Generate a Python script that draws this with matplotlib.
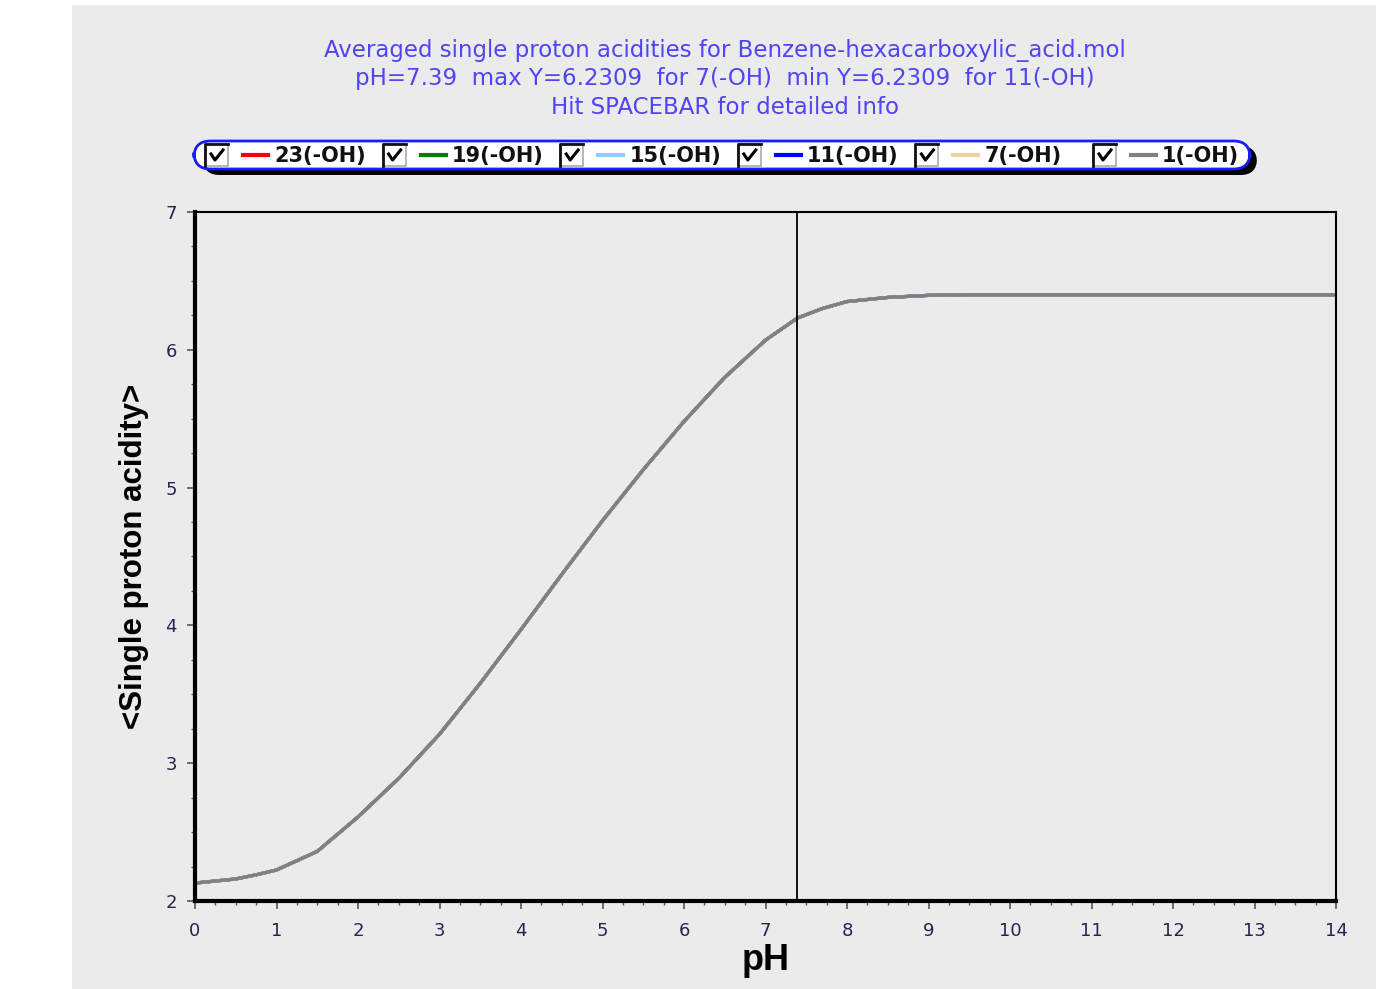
import matplotlib
matplotlib.use("Agg")
import matplotlib.pyplot as plt
from matplotlib.patches import Rectangle, FancyBboxPatch
from matplotlib.lines import Line2D
from matplotlib.ticker import AutoMinorLocator

# averaged single proton acidity vs pH (all six groups coincide)
ph = [0, 0.5, 0.75, 1, 1.5, 2, 2.5, 3, 3.5, 4, 4.5, 5, 5.5, 6, 6.5, 7, 7.39, 7.7, 8, 8.5, 9, 9.5,
      10, 11, 12, 13, 14]
acidity = [2.13, 2.16, 2.19, 2.225, 2.36, 2.61, 2.89, 3.21, 3.58, 3.97, 4.37, 4.76, 5.13, 5.48, 5.80,
           6.07, 6.23, 6.30, 6.35, 6.38, 6.395, 6.40, 6.40, 6.40, 6.40, 6.40, 6.40]
series = ["23(-OH)", "19(-OH)", "15(-OH)", "11(-OH)", "7(-OH)", "1(-OH)"]
colors = ["#ff0000", "#008000", "#87cefa", "#0000ff", "#f0d0a0", "#808080"]
ph_marker = 7.39

title_lines = [
    "Averaged single proton acidities for Benzene-hexacarboxylic_acid.mol",
    "pH=7.39  max Y=6.2309  for 7(-OH)  min Y=6.2309  for 11(-OH)",
    "Hit SPACEBAR for detailed info",
]

W, H = 1376, 989
fig = plt.figure(figsize=(W / 100, H / 100), dpi=100)
fig.patch.set_facecolor("white")
bg = "#ebebeb"
fig.add_artist(Rectangle((72 / W, 0), 1 - 72 / W, 1 - 5 / H, transform=fig.transFigure,
                         facecolor=bg, edgecolor="none", zorder=-10))


def fx(px):
    return px / W


def fy(py):
    return 1 - py / H


ax = fig.add_axes([fx(195), fy(901), fx(1336) - fx(195), fy(212) - fy(901)])
ax.set_facecolor(bg)
for name, c in zip(series, colors):
    ax.plot(ph, acidity, color=c, lw=2.3, solid_capstyle="butt", solid_joinstyle="round")
ax.axvline(ph_marker, color="black", lw=1.3)

ax.set_xlim(0, 14)
ax.set_ylim(2, 7)
ax.set_xticks(range(0, 15))
ax.set_yticks(range(2, 8))
ax.xaxis.set_minor_locator(AutoMinorLocator(4))
ax.yaxis.set_minor_locator(AutoMinorLocator(4))
ax.tick_params(which="major", length=6, width=1.2, color="#555555", labelsize=13, labelcolor="#2a2250", pad=9)
ax.tick_params(axis="y", which="major", pad=7)
ax.tick_params(which="minor", length=3, width=1.0, color="#555555")
ax.spines["left"].set_linewidth(3)
ax.spines["bottom"].set_linewidth(3)
ax.spines["top"].set_linewidth(1.5)
ax.spines["right"].set_linewidth(1.5)

ax.set_xlabel("pH", fontsize=26, fontweight="bold", family="Liberation Sans", labelpad=2)
ax.set_ylabel("<Single proton acidity>", fontsize=22.5, fontweight="bold", family="Liberation Sans",
              labelpad=12)
for lab in ax.get_xticklabels() + ax.get_yticklabels():
    lab.set_family("DejaVu Sans")

for i, line in enumerate(title_lines):
    fig.text(fx(725), fy(51 + 28 * i), line, ha="center", va="center", fontsize=16.5,
             color="#5044f4", family="DejaVu Sans")

# legend bar with checkboxes
shadow = FancyBboxPatch((fx(203), fy(175)), fx(1257) - fx(203), fy(146) - fy(175),
                        boxstyle="round,pad=0,rounding_size=0.012", transform=fig.transFigure,
                        facecolor="black", edgecolor="none", mutation_aspect=W / H)
box = FancyBboxPatch((fx(194), fy(169)), fx(1250) - fx(194), fy(141) - fy(169),
                     boxstyle="round,pad=0,rounding_size=0.012", transform=fig.transFigure,
                     facecolor="white", edgecolor="#1a1aff", lw=2, mutation_aspect=W / H)
fig.add_artist(shadow)
fig.add_artist(box)

x0, step = 205, 177.6
for i, (name, c) in enumerate(zip(series, colors)):
    bx = x0 + step * i
    fig.add_artist(Rectangle((fx(bx), fy(166)), fx(23), fy(144) - fy(166), transform=fig.transFigure,
                             facecolor="white", edgecolor="#aaaaaa", lw=1.2))
    fig.add_artist(Line2D([fx(bx), fx(bx), fx(bx + 23)], [fy(166), fy(144), fy(144)],
                          transform=fig.transFigure, color="#111111", lw=2))
    fig.add_artist(Line2D([fx(bx + 6), fx(bx + 10), fx(bx + 18)], [fy(154), fy(160), fy(150)],
                          transform=fig.transFigure, color="black", lw=2.2))
    lx = bx + 38
    fig.add_artist(Line2D([fx(lx), fx(lx + 25)], [fy(155), fy(155)], transform=fig.transFigure,
                          color=c, lw=3))
    fig.text(fx(lx + 31), fy(156), name, ha="left", va="center", fontsize=15, fontweight="bold",
             family="DejaVu Sans", color="#111111")

fig.savefig("out.png", dpi=100)
